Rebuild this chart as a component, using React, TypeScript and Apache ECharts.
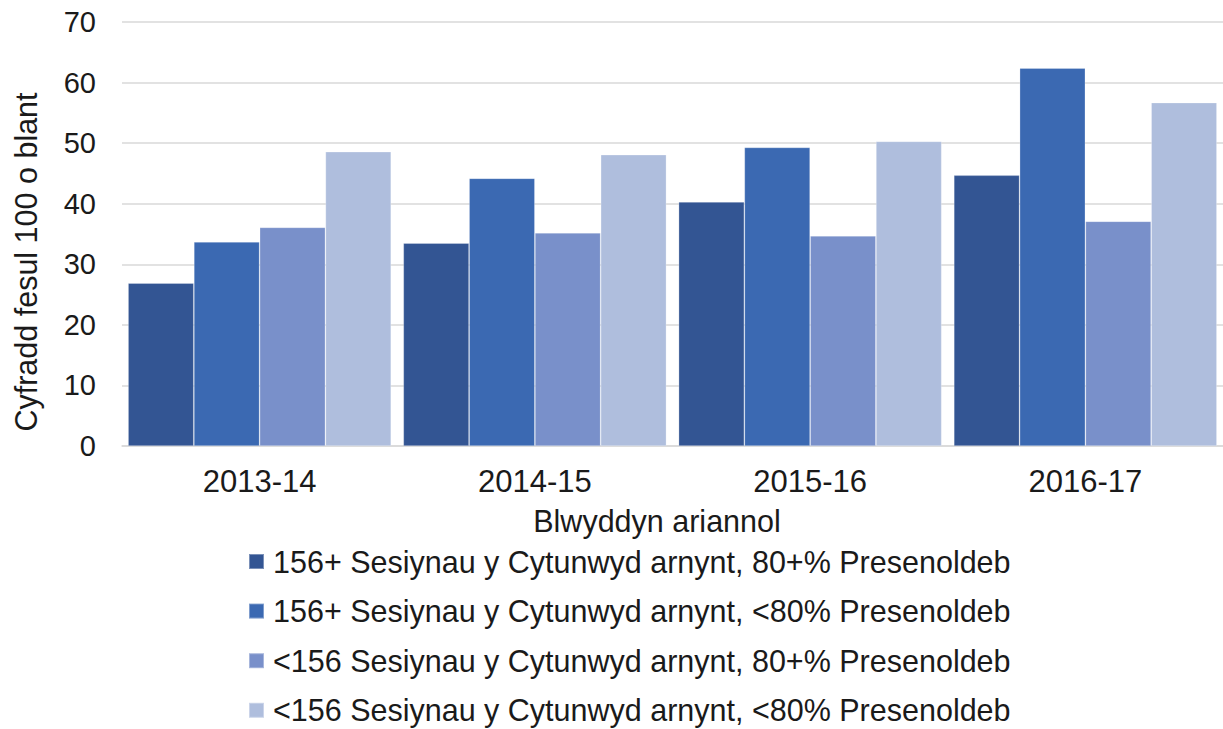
import React, { useEffect, useRef } from "react";
import * as echarts from "echarts";

const categories = ["2013-14", "2014-15", "2015-16", "2016-17"];
const seriesNames = [
  "156+ Sesiynau y Cytunwyd arnynt, 80+% Presenoldeb",
  "156+ Sesiynau y Cytunwyd arnynt, <80% Presenoldeb",
  "<156 Sesiynau y Cytunwyd arnynt, 80+% Presenoldeb",
  "<156 Sesiynau y Cytunwyd arnynt, <80% Presenoldeb",
];
const s1 = [26.9, 33.5, 40.3, 44.7];
const s2 = [33.7, 44.2, 49.3, 62.4];
const s3 = [36.1, 35.2, 34.7, 37.1];
const s4 = [48.6, 48.1, 50.3, 56.7];
const colors = ["#335593", "#3b69b2", "#7990ca", "#afbedd"];
const yTicks = { min: 0, max: 70, interval: 10 };
const xTitle = "Blwyddyn ariannol";
const yTitle = "Cyfradd fesul 100 o blant";

const FONT = "'Liberation Sans', Arial, sans-serif";

export default function App() {
  const ref = useRef<HTMLDivElement>(null);
  useEffect(() => {
    document.body.style.margin = "0";
    const chart = echarts.init(ref.current!, null, { renderer: "svg" });
    const data = [s1, s2, s3, s4];
    chart.setOption({
      animation: false,
      textStyle: { fontFamily: FONT },
      grid: { left: 122, right: -5, top: 22, bottom: 283, containLabel: false },
      graphic: [
        {
          type: "text",
          x: 657,
          y: 521,
          style: {
            text: xTitle,
            fontSize: 30.5,
            fontFamily: FONT,
            fill: "#1a1a1a",
            align: "center",
            verticalAlign: "middle",
          },
        },
        {
          type: "text",
          x: 26,
          y: 262,
          rotation: Math.PI / 2,
          style: {
            text: yTitle,
            fontSize: 30.5,
            fontFamily: FONT,
            fill: "#1a1a1a",
            align: "center",
            verticalAlign: "middle",
          },
        },
      ],
      xAxis: {
        type: "category",
        data: categories,
        axisLine: { show: true, lineStyle: { color: "#d9d9d9", width: 1.5 } },
        axisTick: { show: false },
        axisLabel: { fontSize: 31, color: "#1a1a1a", margin: 20, fontFamily: FONT },
      },
      yAxis: {
        type: "value",
        min: yTicks.min,
        max: yTicks.max,
        interval: yTicks.interval,
        axisLine: { show: false },
        axisTick: { show: false },
        axisLabel: { fontSize: 29, color: "#1a1a1a", margin: 26, fontFamily: FONT },
        splitLine: { lineStyle: { color: "#d9d9d9", width: 1.5 } },
      },
      legend: {
        orient: "vertical",
        left: 243,
        top: 541,
        height: 300,
        itemWidth: 15,
        itemHeight: 15,
        itemGap: 18.6,
        icon: "rect",
        textStyle: { fontSize: 30.5, color: "#1a1a1a", fontFamily: FONT, padding: [0, 0, 0, 4] },
        data: seriesNames,
      },
      series: seriesNames.map((name, i) => ({
        name,
        type: "bar",
        data: data[i],
        barGap: "0%",
        barCategoryGap: "4.4%",
        itemStyle: {
          color: colors[i],
          borderColor: "rgba(255,255,255,0.35)",
          borderWidth: 0.75,
        },
      })),
    });
    return () => chart.dispose();
  }, []);
  return <div ref={ref} style={{ width: 1223, height: 729 }} />;
}
